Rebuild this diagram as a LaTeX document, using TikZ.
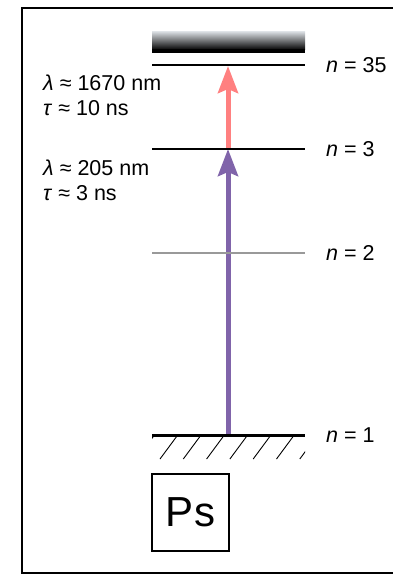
\documentclass[tikz,border=0pt]{standalone}
\usepackage{fontspec}
\setmainfont{Liberation Sans}
\usetikzlibrary{arrows.meta}
\definecolor{uvpurple}{HTML}{8064AA}
\definecolor{irpink}{HTML}{FF8080}
\definecolor{barlight}{HTML}{D4D8DC}
\tikzset{
  frameline/.style={line width=2.5pt, black},
  level/.style={line width=2pt, black},
  levelgray/.style={line width=1.5pt, black!40},
  levelground/.style={line width=3pt, black},
  hatch/.style={line width=0.9pt, black},
  trans/.style={line width=5pt, -{Stealth[length=27pt, width=20pt, inset=4pt]}},
  nlabel/.style={anchor=west, inner sep=0pt, font=\fontsize{21.5}{25}\selectfont},
  wlabel/.style={anchor=base west, inner sep=0pt, font=\fontsize{21.5}{25.5}\selectfont},
  psbox/.style={draw, line width=1.5pt, minimum width=77pt, minimum height=77pt, inner sep=0pt, font=\fontsize{42}{42}\selectfont}
}
\begin{document}
\begin{tikzpicture}[x=1pt, y=-1pt]
\useasboundingbox (0,0) rectangle (393,575);
% frame (open on the right)
\draw[frameline] (400,8) -- (22,8) -- (22,573) -- (400,573);
% continuum bar
\shade[top color=barlight, bottom color=black] (152,32) rectangle (305,50);
\fill[black] (152,49.5) rectangle (305,53);
% level coordinates
\coordinate (l35a) at (152,65); \coordinate (l35b) at (305,65);
\coordinate (l3a) at (152,149); \coordinate (l3b) at (305,149);
\coordinate (l2a) at (152,253); \coordinate (l2b) at (305,253);
\coordinate (l1a) at (152,435); \coordinate (l1b) at (305,435);
\coordinate (a1) at (228,435);
\coordinate (a3) at (228,149);
\coordinate (a35) at (228,66);
% arrows
\draw[trans, uvpurple] (a1) -- (a3);
\draw[trans, irpink] (a3) -- (a35);
% levels
\draw[levelgray] (l2a) -- (l2b);
\draw[level] (l35a) -- (l35b);
\draw[level] (l3a) -- (l3b);
% hatching
\begin{scope}
\clip (152,436) rectangle (305,459);
\foreach \k in {-1,...,6} {
  \draw[hatch] ({160+23.3*\k},459) -- ({177+23.3*\k},436);
}
\end{scope}
\draw[levelground] (l1a) -- (l1b);
% level labels
\node[nlabel] (n35) at (326,65) {\textit{n} = 35};
\node[nlabel] (n3) at (326,149) {\textit{n} = 3};
\node[nlabel] (n2) at (326,253) {\textit{n} = 2};
\node[nlabel] (n1) at (326,435) {\textit{n} = 1};
% transition labels
\node[wlabel] (w1a) at (43,91) {\textit{λ} ≈ 1670 nm};
\node[wlabel] (w1b) at (43,116) {\textit{τ} ≈ 10 ns};
\node[wlabel] (w2a) at (43,175) {\textit{λ} ≈ 205 nm};
\node[wlabel] (w2b) at (43,200) {\textit{τ} ≈ 3 ns};
% Ps box
\node[psbox] (ps) at (190.5,512.5) {Ps};
\end{tikzpicture}
\end{document}
